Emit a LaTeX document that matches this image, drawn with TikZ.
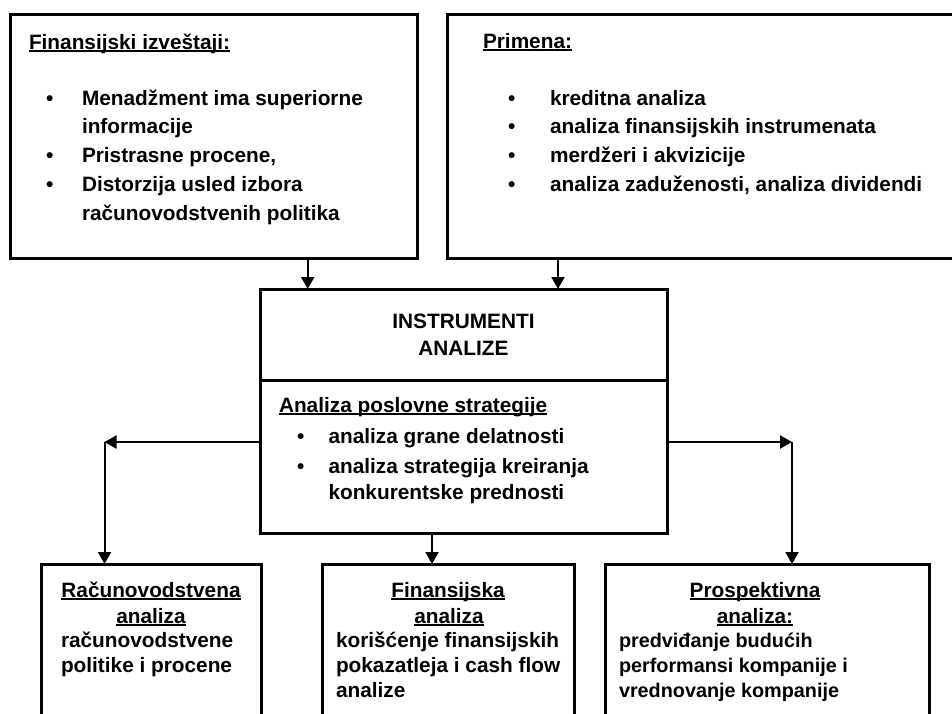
\documentclass[tikz,border=0pt]{standalone}
\usepackage{fontspec}
\setmainfont{Liberation Sans}
\usetikzlibrary{arrows.meta}

% underline drawn as a rule just below the baseline
\newcommand{\undl}[1]{\leavevmode\setbox0\hbox{#1}\rlap{\rule[-2.8pt]{\wd0}{1.5pt}}\box0}

\tikzset{
  box/.style={draw, line width=3pt, inner sep=0pt, outer sep=0pt, anchor=north west},
  arr/.style={line width=2pt, -{Triangle[width=13pt,length=12pt]}},
  txt/.style={anchor=base west, inner sep=0pt, outer sep=0pt,
              font=\bfseries\fontsize{20.8}{25}\selectfont},
  ctxt/.style={txt, anchor=base},
  stxt/.style={txt, font=\bfseries\fontsize{19.8}{24}\selectfont},
  bul/.style={txt}
}

\begin{document}
\begin{tikzpicture}[x=1pt, y=-1pt]
\useasboundingbox (0,0) rectangle (952,713);
\fill[white] (0,0) rectangle (952,713);
\clip (0,0) rectangle (952,713);

% ---- boxes ----
\node[box, minimum width=407pt, minimum height=244pt] (tl) at (10,14) {};
\node[box, minimum width=520pt, minimum height=244pt] (tr) at (447,14) {};
\node[box, minimum width=407pt, minimum height=244pt] (ctr) at (260,289) {};
\node[box, minimum width=220pt, minimum height=200pt] (bl) at (41,564) {};
\node[box, minimum width=252pt, minimum height=200pt] (bm) at (322,564) {};
\node[box, minimum width=324pt, minimum height=200pt] (br) at (605,564) {};

% divider inside the central box
\coordinate (dv) at (0,380.5);
\draw[line width=3pt] (ctr.west |- dv) -- (ctr.east |- dv);

% ---- connectors ----
\coordinate (xa) at (307.7,0);
\coordinate (xb) at (558,0);
\coordinate (xm) at (432,0);
\coordinate (hl) at (104.5,442);
\coordinate (hr) at (792,442);
\draw[arr] (xa |- tl.south) -- (xa |- ctr.north);
\draw[arr] (xb |- tr.south) -- (xb |- ctr.north);
\draw[arr] (xm |- ctr.south) -- (xm |- bm.north);
\draw[arr] (ctr.west |- hl) -- (hl);
\draw[arr] (hl) -- (hl |- bl.north);
\draw[arr] (ctr.east |- hr) -- (hr);
\draw[arr] (hr) -- (hr |- br.north);

% ---- upper left box ----
\node[txt] (a0) at (29,49) {\undl{Finansijski izveštaji:}};
\node[bul] (ab1) at (46,105) {•};
\node[txt] (a1) at (82,105) {Menadžment ima superiorne};
\node[txt] (a2) at (82,133) {informacije};
\node[bul] (ab2) at (46,162) {•};
\node[txt] (a3) at (82,162) {Pristrasne procene,};
\node[bul] (ab3) at (46,191) {•};
\node[txt] (a4) at (82,191) {Distorzija usled izbora};
\node[txt] (a5) at (82,220) {računovodstvenih politika};

% ---- upper right box ----
\node[txt] (b0) at (483,48) {\undl{Primena:}};
\node[bul] (bb1) at (508,105) {•};
\node[txt] (b1) at (550,105) {kreditna analiza};
\node[bul] (bb2) at (508,133.5) {•};
\node[txt] (b2) at (550,133.5) {analiza finansijskih instrumenata};
\node[bul] (bb3) at (508,162.5) {•};
\node[txt] (b3) at (550,162.5) {merdžeri i akvizicije};
\node[bul] (bb4) at (508,191.5) {•};
\node[txt] (b4) at (550,191.5) {analiza zaduženosti, analiza dividendi};

% ---- central box ----
\node[ctxt] (c1) at (463.5,328) {INSTRUMENTI};
\node[ctxt] (c2) at (463.5,355) {ANALIZE};
\node[txt] (c3) at (279,412) {\undl{Analiza poslovne strategije}};
\node[bul] (cb1) at (297,443) {•};
\node[txt] (c4) at (328.5,443) {analiza grane delatnosti};
\node[bul] (cb2) at (297,473) {•};
\node[txt] (c5) at (328.5,473) {analiza strategija kreiranja};
\node[txt] (c6) at (328.5,499) {konkurentske prednosti};

% ---- lower boxes ----
\node[ctxt] (d1) at (151,597) {\undl{Računovodstvena}};
\node[ctxt] (d2) at (151,623) {\undl{analiza}};
\node[txt] (d3) at (61,647) {računovodstvene};
\node[txt] (d4) at (61,672) {politike i procene};

\node[ctxt] (e1) at (448,597) {\undl{Finansijska}};
\node[ctxt] (e2) at (449,623) {\undl{analiza}};
\node[txt] (e3) at (336,647) {korišćenje finansijskih};
\node[txt] (e4) at (336,672) {pokazatleja i cash flow};
\node[txt] (e5) at (336,697) {analize};

\node[ctxt] (f1) at (755,597) {\undl{Prospektivna}};
\node[ctxt] (f2) at (755,623) {\undl{analiza:}};
\node[stxt] (f3) at (619,647) {predviđanje budućih};
\node[stxt] (f4) at (619,672) {performansi kompanije i};
\node[stxt] (f5) at (619,697) {vrednovanje kompanije};
\end{tikzpicture}
\end{document}
